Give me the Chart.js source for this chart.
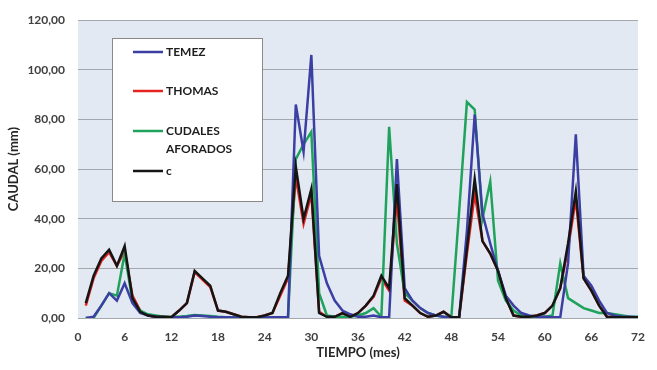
<!DOCTYPE html>
<html>
<head>
<meta charset="utf-8">
<script src="https://cdn.jsdelivr.net/npm/chart.js@4"></script>
<style>
html,body{margin:0;padding:0;background:#fff;}
#wrap{width:657px;height:370px;position:relative;}
</style>
</head>
<body>
<div id="wrap"><canvas id="c" width="657" height="370"></canvas></div>
<script>
const months = [1,2,3,4,5,6,7,8,9,10,11,12,13,14,15,16,17,18,19,20,21,22,23,24,25,26,27,28,29,30,31,32,33,34,35,36,37,38,39,40,41,42,43,44,45,46,47,48,49,50,51,52,53,54,55,56,57,58,59,60,61,62,63,64,65,66,67,68,69,70,71,72];
const seriesNames = ["TEMEZ", "THOMAS", "CUDALES AFORADOS", "c"];
const temez = [0,0.5,5,10,7,14,6,2,1,0.5,0.3,0.3,0.3,0.5,1,0.8,0.5,0.3,0.3,0.2,0.2,0.2,0.2,0.2,0.3,0.3,0.3,86,67,106,25,14,7,3,1.5,0.5,0.5,1,0.3,0.3,64,12,7,4,2,1,0.5,0.3,0.3,35,82,42,30,19,9,5,2,1,0.5,0.5,0.3,0.3,22,74,17,13,7,2,1,0.5,0.5,0.3];
const thomas = [5,16,23,26.5,21,27,9,3,1,0.5,0.5,0.3,3,6,18.5,15.5,12.5,3,2.5,1.5,0.5,0.3,0.3,1,2,9,16,57,38,50,2.5,0.5,0.5,2,0.5,2,5,8.5,16,11,48,7,5,2,0.5,1,2.5,0.3,0.3,26,50,31,26,19,8,1,0.5,0.5,1,2,5,12,28,48,16,11,5,0.5,0.3,0.3,0.3,0.3];
const cudales = [0,0,5,10,9,26,7,3,1.5,1,0.5,0.5,0.5,0.8,1.2,1,0.8,0.5,0.3,0.3,0.2,0.2,0.2,0.2,0.2,0.2,0.2,64,70,75,10,1,0.5,0.5,0.5,1,2,4,0.5,77,30,10,7,4,2,1,0.5,0.5,43,87,84,40,55,15,7,3,1,0.5,0.5,0.5,1,22,8,6,4,3,2,2,1.5,1,0.5,0.5];
const cSeries = [6,17,24,27.5,21,29,8,2.5,1,0.5,0.5,0.3,3,6,19,16,13,3,2.5,1.5,0.5,0.3,0.3,1,2,10,17,61,40,52,2,0.5,0.5,2,0.5,2,5,9,17,12,54,8,5,2,0.5,1,2.5,0.3,0.3,28,56,31,26,19,8,1,0.5,0.5,1,2,5,12,30,51,16,11,5,0.5,0.3,0.3,0.3,0.3];
const yTicks = [0,20,40,60,80,100,120];
const xTicks = [0,6,12,18,24,30,36,42,48,54,60,66,72];
const colors = ["#3b3fa3", "#e52421", "#1fa35c", "#151515"];

function pts(arr){ return months.map((m,i)=>({x:m, y:arr[i]})); }
const allSeries = [temez, thomas, cudales, cSeries];
const orders = [1, 3, 2, 0];
const FONT = 'Lato, "Open Sans", sans-serif';

const bgPlugin = {
  id: 'plotBg',
  beforeDraw(chart){
    const {ctx, chartArea:a} = chart;
    ctx.save();
    ctx.fillStyle = '#e3e9f2';
    ctx.fillRect(a.left, a.top, a.right - a.left, a.bottom - a.top);
    ctx.restore();
  }
};

const legendPlugin = {
  id: 'boxLegend',
  afterDraw(chart){
    const ctx = chart.ctx;
    ctx.save();
    ctx.fillStyle = '#ffffff';
    ctx.fillRect(112, 38, 151, 164);
    ctx.strokeStyle = '#8a8a8a';
    ctx.lineWidth = 1;
    ctx.strokeRect(112.5, 38.5, 150, 163);
    const rows = [
      {i:0, y:52, lines:["TEMEZ"]},
      {i:1, y:91, lines:["THOMAS"]},
      {i:2, y:131, lines:["CUDALES", "AFORADOS"]},
      {i:3, y:171, lines:["c"]}
    ];
    ctx.font = 'bold 12px ' + FONT;
    ctx.textBaseline = 'middle';
    ctx.textAlign = 'left';
    rows.forEach(r => {
      ctx.strokeStyle = colors[r.i];
      ctx.lineWidth = 2.5;
      ctx.beginPath();
      ctx.moveTo(133, r.y);
      ctx.lineTo(163, r.y);
      ctx.stroke();
      ctx.fillStyle = '#1e1e1e';
      r.lines.forEach((t, k) => ctx.fillText(t, 166, r.y + k * 18));
    });
    ctx.restore();
  }
};

const fmt = v => Number(v).toFixed(2).replace('.', ',');

new Chart(document.getElementById('c'), {
  type: 'line',
  data: {
    datasets: seriesNames.map((n, i) => ({
      label: n,
      data: pts(allSeries[i]),
      borderColor: colors[i],
      backgroundColor: colors[i],
      borderWidth: 2.5,
      pointRadius: 0,
      tension: 0,
      fill: false,
      order: orders[i]
    }))
  },
  options: {
    responsive: false,
    animation: false,
    devicePixelRatio: 1,
    layout: { padding: { top: 16, right: 9, bottom: 5, left: 0 } },
    plugins: { legend: { display: false }, tooltip: { enabled: false } },
    scales: {
      x: {
        type: 'linear', min: 0, max: 72,
        afterBuildTicks: s => { s.ticks = xTicks.map(v => ({value: v})); },
        afterFit: s => { s.height = 47; },
        grid: { display: false, drawTicks: false },
        border: { display: false },
        ticks: { padding: 12, color: '#404040', font: { family: FONT, size: 12, weight: 'bold' }, maxRotation: 0, autoSkip: false },
        title: { display: true, text: 'TIEMPO (mes)', color: '#262626', padding: { top: 2, bottom: 4 }, font: { family: FONT, size: 13, weight: 'bold' } }
      },
      y: {
        min: 0, max: 120,
        afterBuildTicks: s => { s.ticks = yTicks.map(v => ({value: v})); },
        afterFit: s => { s.width = 78; },
        grid: { color: '#a3a7ae', lineWidth: 1, drawTicks: false },
        border: { display: false },
        ticks: { padding: 13, color: '#404040', callback: fmt, font: { family: FONT, size: 12, weight: 'bold' } },
        title: { display: true, text: 'CAUDAL (mm)', color: '#262626', padding: { top: 6, bottom: 2 }, font: { family: FONT, size: 13, weight: 'bold' } }
      }
    }
  },
  plugins: [bgPlugin, legendPlugin]
});
</script>
</body>
</html>
